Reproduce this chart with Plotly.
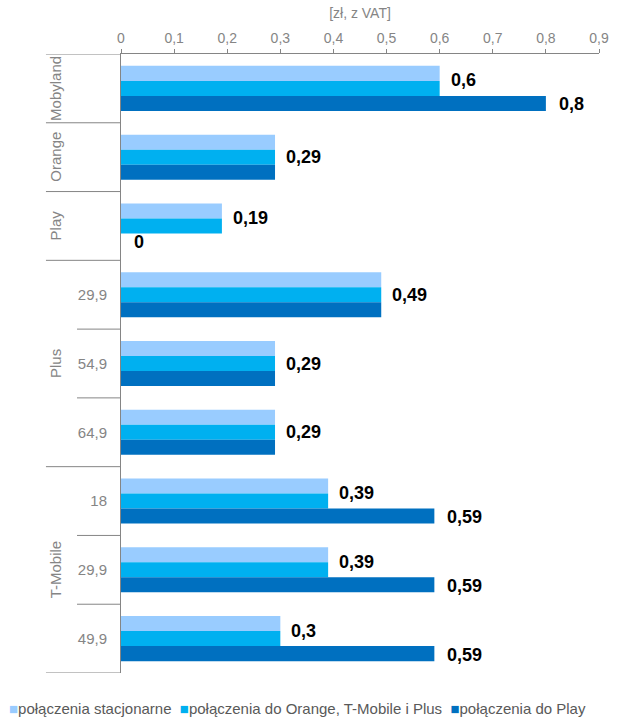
import plotly.graph_objects as go

# ---- data ----
operators = ["Mobyland", "Orange", "Play", "Plus", "Plus", "Plus", "T-Mobile", "T-Mobile", "T-Mobile"]
plans = ["", "", "", "29,9", "54,9", "64,9", "18", "29,9", "49,9"]
series_names = ["połączenia stacjonarne", "połączenia do Orange, T-Mobile i Plus", "połączenia do Play"]
stacjonarne = [0.6, 0.29, 0.19, 0.49, 0.29, 0.29, 0.39, 0.39, 0.30]
do_orange_tm_plus = [0.6, 0.29, 0.19, 0.49, 0.29, 0.29, 0.39, 0.39, 0.30]
do_play = [0.8, 0.29, 0.0, 0.49, 0.29, 0.29, 0.59, 0.59, 0.59]
x_ticks = [0, 0.1, 0.2, 0.3, 0.4, 0.5, 0.6, 0.7, 0.8, 0.9]
axis_title = "[zł, z VAT]"

colors = ["#99ccff", "#00b0f0", "#0070c0"]
grey = "#858585"
FONT = "Liberation Sans, Arial, sans-serif"

ids = [f"{o}|{p}" for o, p in zip(operators, plans)]
n = len(ids)


def fmt(v):
    return ("%g" % v).replace(".", ",")


fig = go.Figure()
for name, vals, col in zip(series_names, [stacjonarne, do_orange_tm_plus, do_play], colors):
    fig.add_trace(go.Bar(y=ids, x=vals, orientation="h", name=name,
                         marker=dict(color=col, line=dict(width=0)), showlegend=False))

annotations = []
# value labels: middle series always, third series when it differs
for i in range(n):
    differs = do_play[i] != do_orange_tm_plus[i]
    annotations.append(dict(x=do_orange_tm_plus[i], y=ids[i], xref="x", yref="y",
                            text="<b>" + fmt(do_orange_tm_plus[i]) + "</b>", showarrow=False,
                            xanchor="left", xshift=9, yshift=8 if differs else 0,
                            font=dict(family=FONT, size=18, color="#000000")))
    if differs:
        annotations.append(dict(x=do_play[i], y=ids[i], xref="x", yref="y",
                                text="<b>" + fmt(do_play[i]) + "</b>", showarrow=False,
                                xanchor="left", xshift=11, yshift=-16,
                                font=dict(family=FONT, size=18, color="#000000")))

# outer (operator) labels rotated
seen = []
for o in operators:
    if o not in seen:
        seen.append(o)
for o in seen:
    idx = [i for i, op in enumerate(operators) if op == o]
    annotations.append(dict(x=-0.137, y=sum(idx) / len(idx), xref="paper", yref="y",
                            xanchor="center", yanchor="middle",
                            text=o, textangle=-90, showarrow=False,
                            font=dict(family=FONT, size=15, color=grey)))

# separator lines on the left
shapes = []
for b in range(n + 1):
    outer = b == 0 or b == n or operators[b - 1] != operators[b]
    x0 = -0.157 if outer else -0.092
    shapes.append(dict(type="line", xref="paper", yref="y", x0=x0, x1=0,
                       y0=b - 0.5, y1=b - 0.5, line=dict(color=grey, width=1)))

# legend built as text
legend_parts = [f'<span style="color:{c}">■</span>{nm}' for nm, c in zip(series_names, colors)]
annotations.append(dict(x=-114 / 478, y=-35 / 619, xref="paper", yref="paper",
                        xanchor="left", yanchor="middle", showarrow=False,
                        text="  ".join(legend_parts),
                        font=dict(family=FONT, size=15, color="#595959")))

fig.update_layout(
    width=620, height=721,
    margin=dict(l=121, r=21, t=54, b=48, autoexpand=False),
    paper_bgcolor="white", plot_bgcolor="white",
    separators=", ",
    barmode="group", bargap=0.345, bargroupgap=0,
    font=dict(family=FONT, size=14, color=grey),
    xaxis=dict(side="top", range=[0, 0.9], tickvals=x_ticks, ticks="outside", ticklen=4,
               tickcolor=grey, showline=True, linecolor=grey, linewidth=1,
               showgrid=False, zeroline=False, automargin=False,
               tickfont=dict(family=FONT, size=14, color=grey),
               title=dict(text=axis_title, standoff=8,
                          font=dict(family=FONT, size=14, color=grey))),
    yaxis=dict(type="category", range=[n - 0.5, -0.5], tickvals=ids, ticktext=plans,
               showline=True, linecolor=grey, linewidth=1, ticks="", showgrid=False,
               zeroline=False, ticklabelstandoff=10, automargin=False,
               tickfont=dict(family=FONT, size=15, color=grey)),
    annotations=annotations,
    shapes=shapes,
)

fig.write_html("out.html", config={"displayModeBar": False},
               post_script="document.body.style.margin='0';")
